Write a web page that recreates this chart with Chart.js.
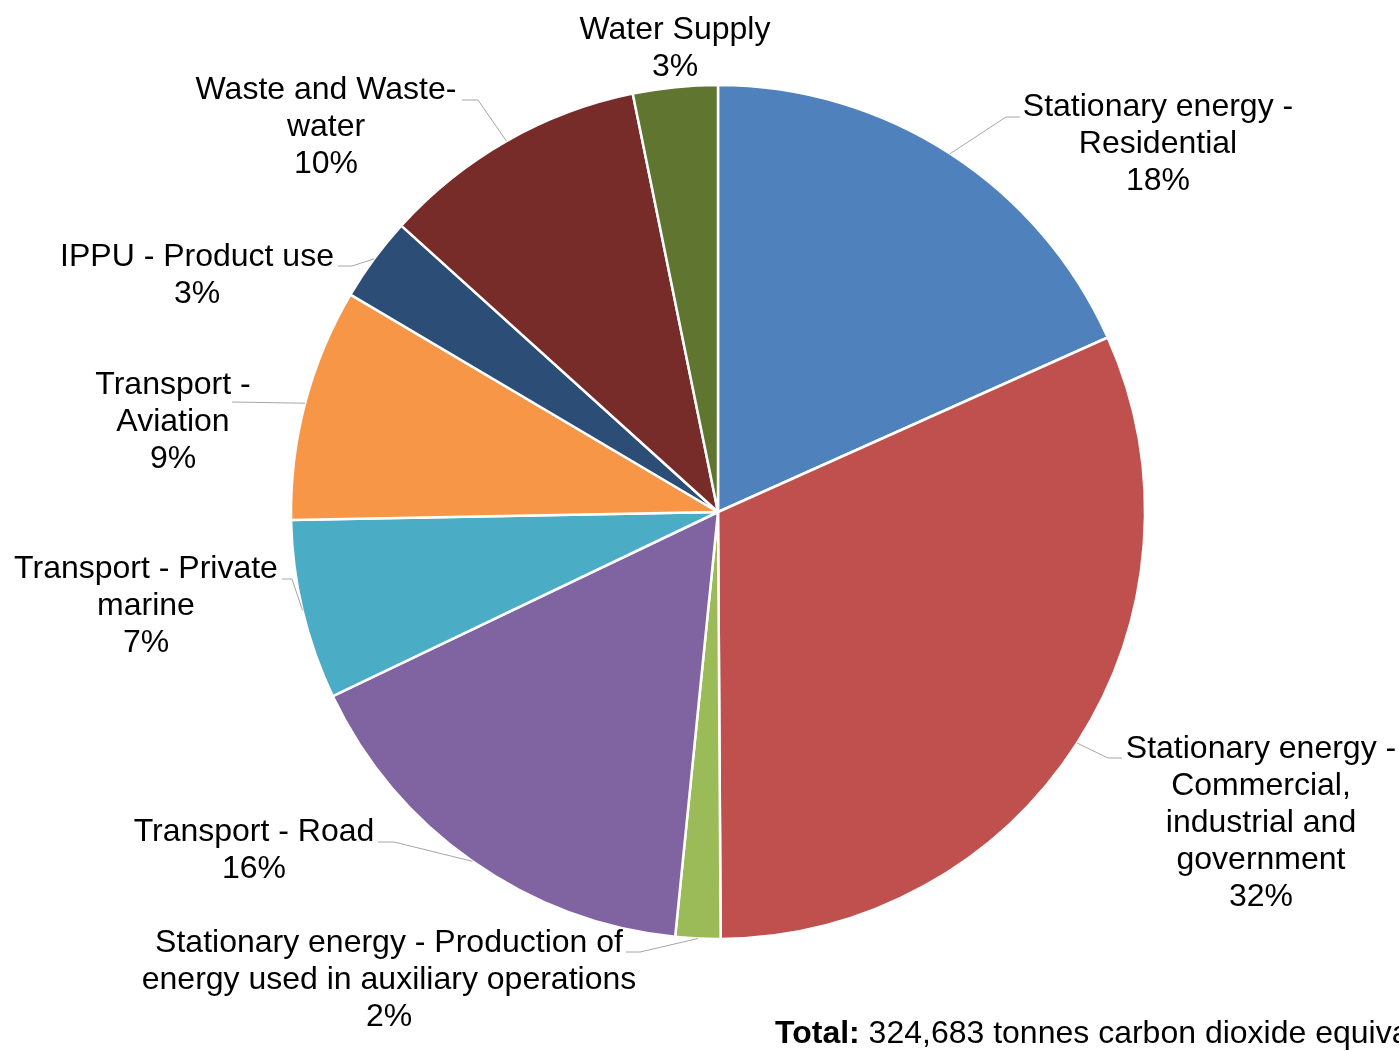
<!DOCTYPE html>
<html>
<head>
<meta charset="utf-8">
<script src="https://cdn.jsdelivr.net/npm/chart.js@4.4.0/dist/chart.umd.min.js"></script>
<style>
  html, body { margin: 0; padding: 0; background: #fff; overflow: hidden; }
  #wrap { width: 1399px; height: 1051px; }
</style>
</head>
<body>
<div id="wrap"><canvas id="emissionsPie"></canvas></div>
<script>
// share of total emissions, percent
const categories = [
	'Stationary energy - Residential',
	'Stationary energy - Commercial, industrial and government',
	'Stationary energy - Production of energy used in auxiliary operations',
	'Transport - Road',
	'Transport - Private marine',
	'Transport - Aviation',
	'IPPU - Product use',
	'Waste and Waste-water',
	'Water Supply'
];
const shares = [18.3, 31.6, 1.7, 16.3, 6.8, 8.8, 3.2, 10.1, 3.2];
const colors = ['#4F81BD', '#C0504D', '#9BBB59', '#8064A2', '#4BACC6', '#F79646', '#2C4D75', '#772C2A', '#5F7530'];

// how each category name wraps in its data label
const labelLines = [
	['Stationary energy -', 'Residential'],
	['Stationary energy -', 'Commercial,', 'industrial and', 'government'],
	['Stationary energy - Production of', 'energy used in auxiliary operations'],
	['Transport - Road'],
	['Transport - Private', 'marine'],
	['Transport -', 'Aviation'],
	['IPPU - Product use'],
	['Waste and Waste-', 'water'],
	['Water Supply']
];
const totalText = '324,683 tonnes carbon dioxide equivalent';

// label placement: centre x, first line y, then leader points (elbow..end), null = no leader
const labelPos = [[1158, 107], [1261, 749], [389, 943], [254, 832], [146, 569], [173, 385], [197, 257], [326, 90], [675, 30]];
const leaders = [
	[[1006, 117], [1020, 117]],
	[[1108, 758], [1122, 758]],
	[[640, 952], [626, 952]],
	[[394, 842], [378, 842]],
	[[292, 579], [282, 579]],
	[[232, 402]],
	[[352, 266], [338, 266]],
	[[478, 100], [462, 100]],
	null
];

const FONT = '32px "Liberation Sans", Arial, sans-serif';
const LINE_H = 37;

const outsideLabels = {
	id: 'outsideLabels',
	afterDraw(chart) {
		const ctx = chart.ctx;
		const arcs = chart.getDatasetMeta(0).data;
		const total = shares.reduce((a, b) => a + b, 0);
		ctx.save();
		arcs.forEach((arc, i) => {
			// leader line from the slice edge at its mid angle
			if (leaders[i]) {
				const mid = (arc.startAngle + arc.endAngle) / 2;
				const r = arc.outerRadius;
				ctx.beginPath();
				ctx.moveTo(arc.x + Math.cos(mid) * r, arc.y + Math.sin(mid) * r);
				leaders[i].forEach(p => ctx.lineTo(p[0], p[1]));
				ctx.strokeStyle = '#a6a6a6';
				ctx.lineWidth = 1;
				ctx.stroke();
			}
			const lines = labelLines[i].concat([Math.round(shares[i] / total * 100) + '%']);
			ctx.font = FONT;
			ctx.fillStyle = '#000';
			ctx.textAlign = 'center';
			ctx.textBaseline = 'middle';
			lines.forEach((t, k) => {
				ctx.fillText(t, labelPos[i][0], labelPos[i][1] + k * LINE_H);
			});
		});

		// total note, bottom right (runs off the edge like the original)
		ctx.textAlign = 'left';
		ctx.textBaseline = 'middle';
		ctx.font = 'bold ' + FONT;
		ctx.fillText('Total:', 775, 1034);
		const w = ctx.measureText('Total:').width;
		ctx.font = FONT;
		ctx.fillText(' ' + totalText, 775 + w, 1034);
		ctx.restore();
	}
};

new Chart(document.getElementById('emissionsPie'), {
	type: 'pie',
	data: {
		labels: categories,
		datasets: [{
			data: shares,
			backgroundColor: colors,
			borderColor: '#ffffff',
			borderWidth: 2.5
		}]
	},
	options: {
		responsive: true,
		maintainAspectRatio: false,
		animation: false,
		radius: 427,
		layout: {
			padding: { left: 291, right: 254, top: 85, bottom: 112 }
		},
		plugins: {
			legend: { display: false },
			tooltip: { enabled: false }
		}
	},
	plugins: [outsideLabels]
});
</script>
</body>
</html>
